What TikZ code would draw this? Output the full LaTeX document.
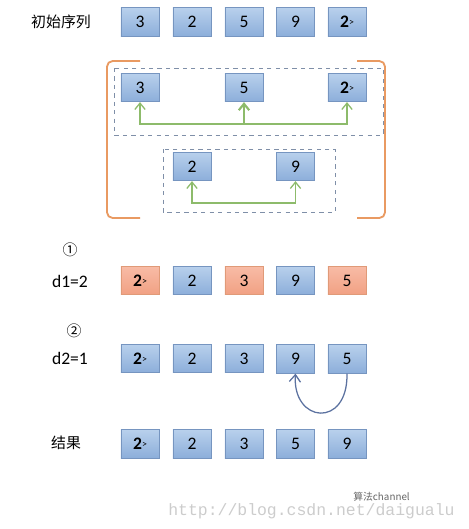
\documentclass[tikz,border=0pt]{standalone}
\usepackage{fontspec}
\setmainfont{Carlito}
\newfontfamily\cjk{Noto Sans CJK SC}
\newfontfamily\wmfont{Liberation Mono}
\usepackage{tikz}
\usetikzlibrary{arrows.meta}

\definecolor{boxblueT}{HTML}{B8D0EC}
\definecolor{boxblueB}{HTML}{8CAEDA}
\definecolor{edgeblue}{HTML}{7695C0}
\definecolor{boxorT}{HTML}{F8BCA6}
\definecolor{boxorB}{HTML}{F1A083}
\definecolor{edgeor}{HTML}{E09A78}
\definecolor{grnline}{HTML}{8DBB6B}
\definecolor{brkor}{HTML}{E99A62}
\definecolor{dashgray}{HTML}{7F8FA8}
\definecolor{arcblue}{HTML}{5C72A0}

\newcommand{\firsttwo}{\textbf{2}\raisebox{1.4pt}{\scriptsize >}}

\begin{document}
\begin{tikzpicture}[x=0.025cm, y=-0.025cm,
			bbox/.style={rectangle, draw=edgeblue, line width=0.6pt, top color=boxblueT, bottom color=boxblueB, minimum width=0.95cm, minimum height=0.71cm, inner sep=0pt, font=\fontsize{12.5}{14}\selectfont},
			obox/.style={bbox, draw=edgeor, top color=boxorT, bottom color=boxorB},
			lbl/.style={font=\fontsize{12.5}{14}\selectfont},
			cjklbl/.style={font=\cjk\fontsize{10.6}{13}\selectfont},
			dashbox/.style={draw=dashgray, dashed, line width=0.5pt},
			bracket/.style={draw=brkor, line width=1.3pt, rounded corners=4pt},
			grnarr/.style={draw=grnline, line width=0.9pt, -{Straight Barb[length=1.6mm, width=2.6mm]}},
			arcarr/.style={draw=arcblue, line width=0.9pt, -{Straight Barb[length=1.8mm, width=2.8mm]}},
		]
		\useasboundingbox (0,0) rectangle (469,529);

		% initial sequence
		\node[cjklbl] (lblinit) at (61,22) {初始序列};
		\node[bbox] (init1) at (140,22) {3};
		\node[bbox] (init2) at (192,22) {2};
		\node[bbox] (init3) at (244,22) {5};
		\node[bbox] (init4) at (295.5,22) {9};
		\node[bbox] (init5) at (347,22) {\firsttwo};

		% grouping with gap 2
		\draw[bracket] (140,61) -- (107,61) -- (107,218) -- (140,218);
		\draw[bracket] (357,61) -- (385,61) -- (385,218) -- (357,218);
		\draw[dashbox] (114,68) rectangle (383,135);
		\draw[dashbox] (163,149) rectangle (335,212);

		\node[bbox] (grpa1) at (140,87.5) {3};
		\node[bbox] (grpa2) at (244,87.5) {5};
		\node[bbox] (grpa3) at (347,87.5) {\firsttwo};
		\coordinate (huba) at (244,124);
		\draw[grnarr] (huba) -| (grpa1.south);
		\draw[grnarr] (huba) -| (grpa3.south);
		\draw[grnarr, line width=1.5pt] (huba) -- (grpa2.south);

		\node[bbox] (grpb1) at (192,166.5) {2};
		\node[bbox] (grpb2) at (295.5,166.5) {9};
		\coordinate (hubb) at (244,203);
		\draw[grnarr] (hubb) -| (grpb1.south);
		\draw[grnarr] (hubb) -| (grpb2.south);

		% step 1
		\node[cjklbl] (circa) at (70,250) {①};
		\node[lbl] (lbldone) at (70,281) {d1=2};
		\node[obox] (one1) at (140,280.5) {\firsttwo};
		\node[bbox] (one2) at (192,280.5) {2};
		\node[obox] (one3) at (244,280.5) {3};
		\node[bbox] (one4) at (295.5,280.5) {9};
		\node[obox] (one5) at (347,280.5) {5};

		% step 2
		\node[cjklbl] (circb) at (74,331) {②};
		\node[lbl] (lbldtwo) at (70,358) {d2=1};
		\node[bbox] (two1) at (140,358.5) {\firsttwo};
		\node[bbox] (two2) at (192,358.5) {2};
		\node[bbox] (two3) at (244,358.5) {3};
		\node[bbox] (two4) at (295.5,359) {9};
		\node[bbox] (two5) at (347,359) {5};
		\draw[arcarr] (two5.south) .. controls (348,429) and (292,423) .. (two4.south);

		% result
		\node[cjklbl] (lblres) at (66,443) {结果};
		\node[bbox] (res1) at (140,444) {\firsttwo};
		\node[bbox] (res2) at (192,444) {2};
		\node[bbox] (res3) at (244,444) {3};
		\node[bbox] (res4) at (295.5,444) {5};
		\node[bbox] (res5) at (347,444) {9};

		% watermark
		\node[anchor=west, text=black!20, font=\wmfont\fontsize{11.7}{13}\selectfont, inner sep=0pt] (wmurl) at (168,511) {http://blog.csdn.net/daigualu};
		\node[anchor=west, text=black!60, font=\cjk\fontsize{7}{8}\selectfont, inner sep=0pt] (wmname) at (353,497) {算法channel};

	\end{tikzpicture}
\end{document}
